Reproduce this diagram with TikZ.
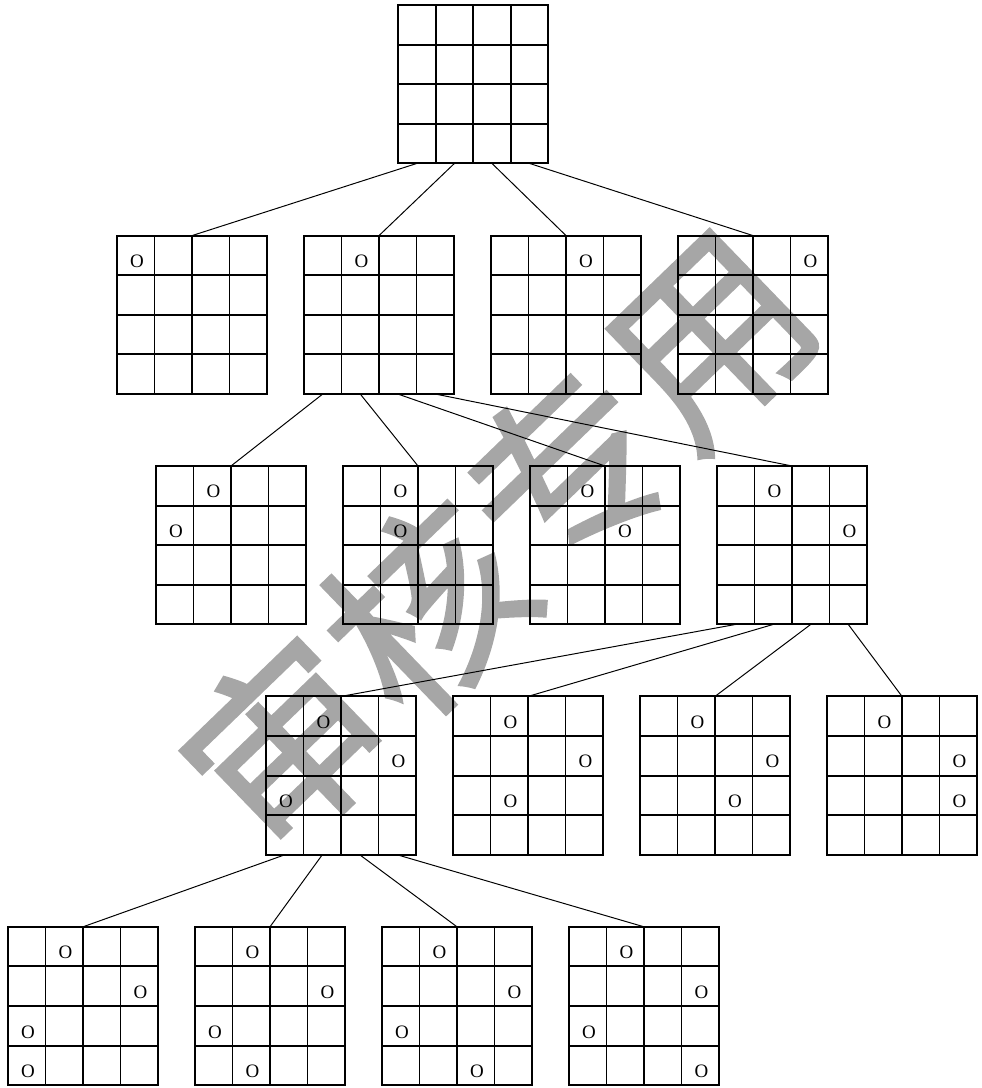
\documentclass[tikz,border=0pt]{standalone}
\usepackage{fontspec}
\setmainfont{Liberation Serif}
\newfontfamily\cjk[FakeBold=1.5]{Noto Sans CJK SC}
\usepackage{xcolor}
\usepackage{tikz}
\usetikzlibrary{positioning, calc}
\definecolor{stampgray}{RGB}{166, 166, 166}

\begin{document}
\begin{tikzpicture}[
				node distance=0.925cm,
				board/.style={rectangle, draw, line width=1.3pt, outer sep=0pt, minimum width=3.75cm, minimum height=3.96cm,
					path picture={
						\foreach \k in {1,2,3} {
							\draw[line width=1.3pt] ($(path picture bounding box.south west)!\k/4!(path picture bounding box.south east)$) -- ($(path picture bounding box.north west)!\k/4!(path picture bounding box.north east)$);
							\draw[line width=1.3pt] ($(path picture bounding box.south west)!\k/4!(path picture bounding box.north west)$) -- ($(path picture bounding box.south east)!\k/4!(path picture bounding box.north east)$);
						}}},
				link/.style={draw, line width=0.7pt},
				queen/.style={inner sep=0pt, font=\fontsize{13.5}{13.5}\selectfont},
				stamp/.style={inner sep=0pt, rotate=44, text=stampgray, font=\cjk\fontsize{139}{139}\selectfont}
				]
				\useasboundingbox (0,0) rectangle (24.525,-27.2);
				\node[stamp] (wm) at (12.43,-13.5) {审核专用};
				
				% level 0
				\node[board] (root) at (11.83,-2.105) {};
				% level 1
				\node[board] (l1a) at (4.8,-7.87) {};
				\node[board, right=of l1a] (l1b) {};
				\node[board, right=of l1b] (l1c) {};
				\node[board, right=of l1c] (l1d) {};
				% level 2
				\node[board] (l2a) at (5.775,-13.63) {};
				\node[board, right=of l2a] (l2b) {};
				\node[board, right=of l2b] (l2c) {};
				\node[board, right=of l2c] (l2d) {};
				% level 3
				\node[board] (l3a) at (8.525,-19.39) {};
				\node[board, right=of l3a] (l3b) {};
				\node[board, right=of l3b] (l3c) {};
				\node[board, right=of l3c] (l3d) {};
				% level 4
				\node[board] (l4a) at (2.075,-25.15) {};
				\node[board, right=of l4a] (l4b) {};
				\node[board, right=of l4b] (l4c) {};
				\node[board, right=of l4c] (l4d) {};
				
				% queens, column/row
				\foreach \b/\c/\r in {l1a/1/1, l1b/2/1, l1c/3/1, l1d/4/1,
					l2a/2/1, l2a/1/2, l2b/2/1, l2b/2/2, l2c/2/1, l2c/3/2, l2d/2/1, l2d/4/2,
					l3a/2/1, l3a/4/2, l3a/1/3, l3b/2/1, l3b/4/2, l3b/2/3,
					l3c/2/1, l3c/4/2, l3c/3/3, l3d/2/1, l3d/4/2, l3d/4/3,
					l4a/2/1, l4a/4/2, l4a/1/3, l4a/1/4, l4b/2/1, l4b/4/2, l4b/1/3, l4b/2/4,
					l4c/2/1, l4c/4/2, l4c/1/3, l4c/3/4, l4d/2/1, l4d/4/2, l4d/1/3, l4d/4/4}
					\node[queen] at ($(\b.north west)+(\c*0.9375-0.44,-\r*0.99+0.345)$) {O};
				
				\foreach \i/\k in {1/l1a, 2/l1b, 3/l1c, 4/l1d}
					\draw[link] ($(root.south west)!{(2*\i-1)/8}!(root.south east)$) -- (\k.north);
				\foreach \i/\k in {1/l2a, 2/l2b, 3/l2c, 4/l2d}
					\draw[link] ($(l1b.south west)!{(2*\i-1)/8}!(l1b.south east)$) -- (\k.north);
				\foreach \i/\k in {1/l3a, 2/l3b, 3/l3c, 4/l3d}
					\draw[link] ($(l2d.south west)!{(2*\i-1)/8}!(l2d.south east)$) -- (\k.north);
				\foreach \i/\k in {1/l4a, 2/l4b, 3/l4c, 4/l4d}
					\draw[link] ($(l3a.south west)!{(2*\i-1)/8}!(l3a.south east)$) -- (\k.north);
			\end{tikzpicture}
\end{document}
